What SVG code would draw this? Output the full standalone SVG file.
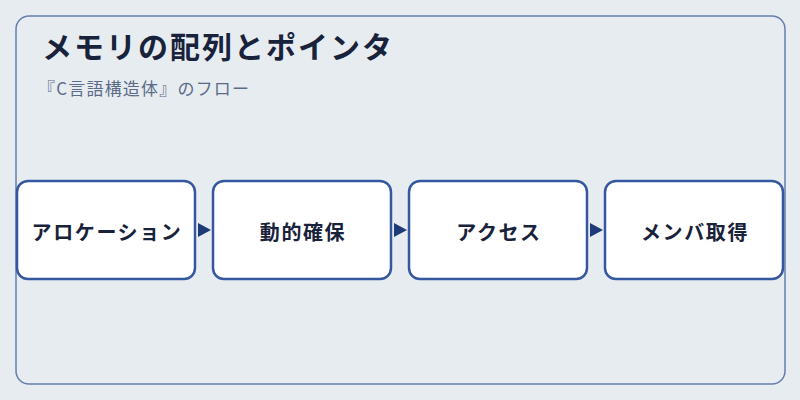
<svg xmlns="http://www.w3.org/2000/svg" width="800" height="400" viewBox="0 0 800 400">
<defs>
<style>
.frame{fill:#e7ecf1;stroke:#667eae;stroke-width:1.5}
.node{fill:#ffffff;stroke:#3457a0;stroke-width:2.5}
.lbl{font-family:"Noto Sans CJK JP","Noto Sans",sans-serif;font-weight:bold;font-size:20px;letter-spacing:1.6px;fill:#18223a;text-anchor:middle;dominant-baseline:central}
.title{font-family:"Noto Sans CJK JP","Noto Sans",sans-serif;font-weight:bold;font-size:30px;letter-spacing:2px;fill:#18223a}
.sub{font-family:"Noto Sans CJK JP","Noto Sans",sans-serif;font-size:17px;letter-spacing:1.2px;fill:#5b6b86}
.arr{fill:#1f3a78}
</style>
</defs>
<rect width="800" height="400" fill="#e7ecf1"/>
<rect class="frame" x="16" y="16" width="769" height="368" rx="13"/>
<text class="title" x="42" y="58">メモリの配列とポインタ</text>
<text class="sub" x="38" y="95">『C言語構造体』のフロー</text>
<g id="connectors">
<path class="arr" d="M198,223 L211,230 L198,237 Z"/>
<path class="arr" d="M394,223 L407,230 L394,237 Z"/>
<path class="arr" d="M590,223 L603,230 L590,237 Z"/>
</g>
<g id="node1"><rect class="node" x="17" y="181" width="178" height="98" rx="11"/><text class="lbl" x="107" y="231">アロケーション</text></g>
<g id="node2"><rect class="node" x="213" y="181" width="178" height="98" rx="11"/><text class="lbl" x="303" y="231">動的確保</text></g>
<g id="node3"><rect class="node" x="409" y="181" width="178" height="98" rx="11"/><text class="lbl" x="499" y="231">アクセス</text></g>
<g id="node4"><rect class="node" x="605" y="181" width="178" height="98" rx="11"/><text class="lbl" x="695" y="231">メンバ取得</text></g>
</svg>
